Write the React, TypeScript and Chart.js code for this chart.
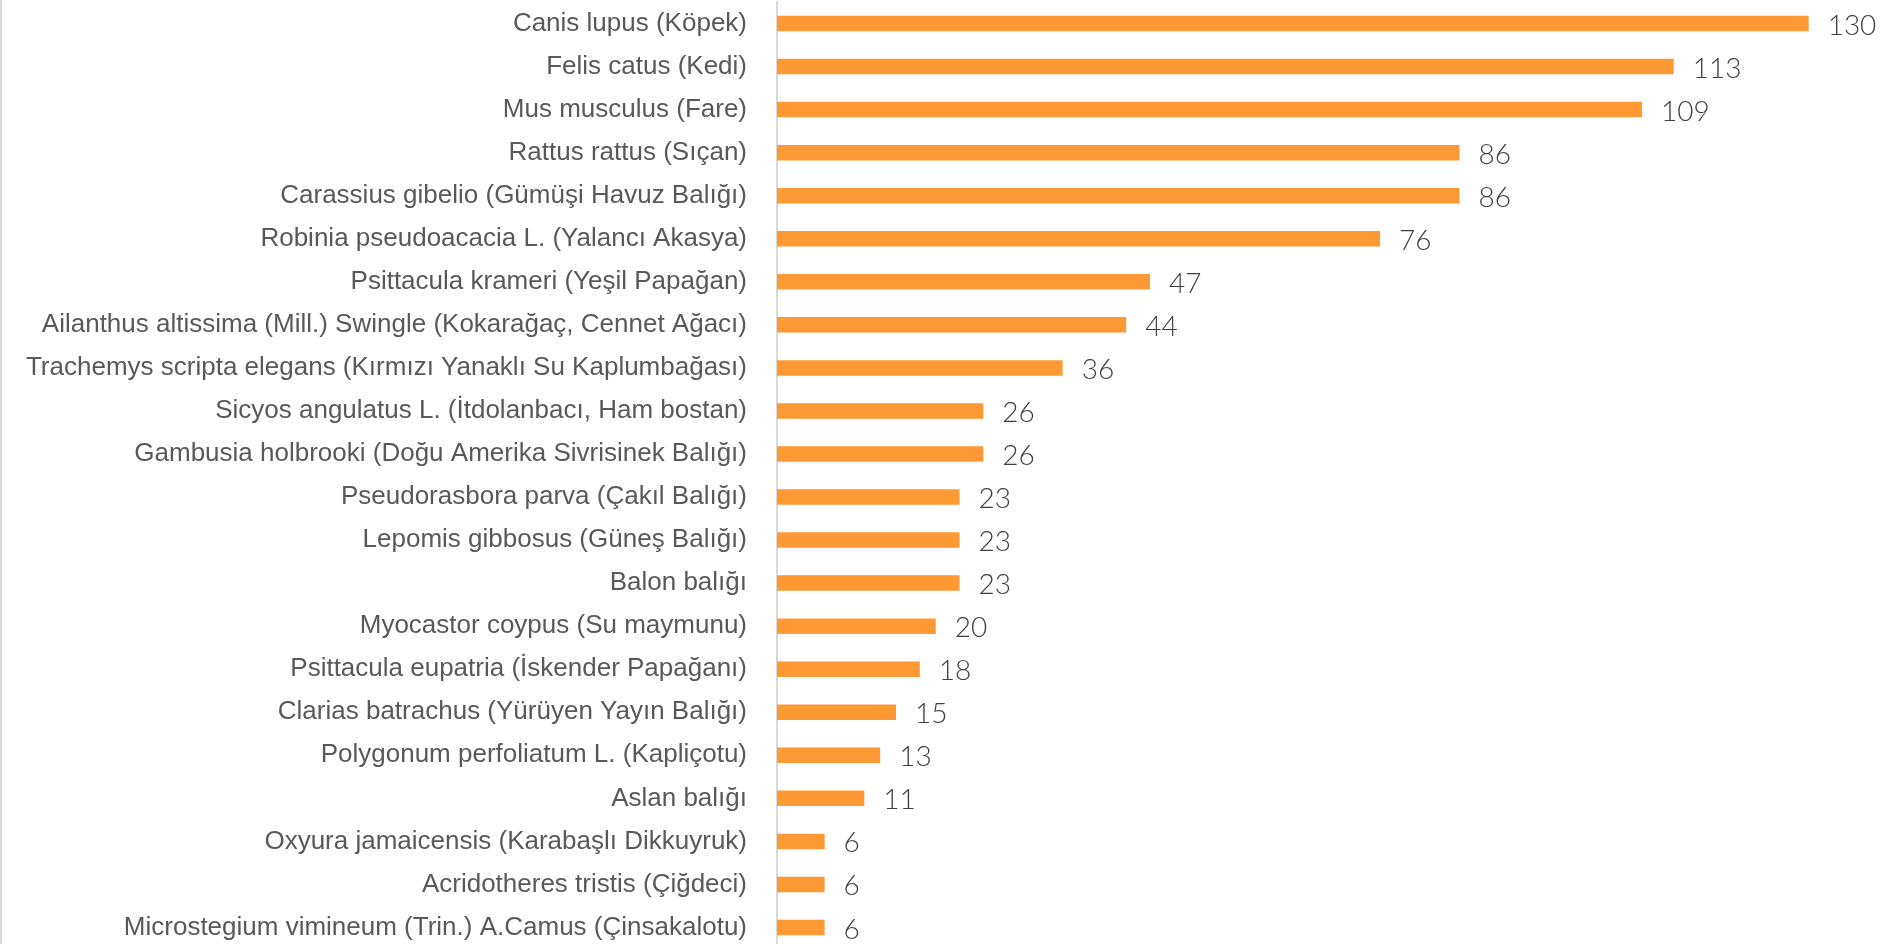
import React, { useEffect, useRef } from "react";
import { Chart, registerables } from "chart.js";

Chart.register(...registerables);

const categories: string[] = [
  "Canis lupus (Köpek)",
  "Felis catus (Kedi)",
  "Mus musculus (Fare)",
  "Rattus rattus (Sıçan)",
  "Carassius gibelio (Gümüşi Havuz Balığı)",
  "Robinia pseudoacacia L. (Yalancı Akasya)",
  "Psittacula krameri (Yeşil Papağan)",
  "Ailanthus altissima (Mill.) Swingle (Kokarağaç, Cennet Ağacı)",
  "Trachemys scripta elegans (Kırmızı Yanaklı Su Kaplumbağası)",
  "Sicyos angulatus L. (İtdolanbacı, Ham bostan)",
  "Gambusia holbrooki (Doğu Amerika Sivrisinek Balığı)",
  "Pseudorasbora parva (Çakıl Balığı)",
  "Lepomis gibbosus (Güneş Balığı)",
  "Balon balığı",
  "Myocastor coypus (Su maymunu)",
  "Psittacula eupatria (İskender Papağanı)",
  "Clarias batrachus (Yürüyen Yayın Balığı)",
  "Polygonum perfoliatum L. (Kapliçotu)",
  "Aslan balığı",
  "Oxyura jamaicensis (Karabaşlı Dikkuyruk)",
  "Acridotheres tristis (Çiğdeci)",
  "Microstegium vimineum (Trin.) A.Camus (Çinsakalotu)",
];

const counts: number[] = [130, 113, 109, 86, 86, 76, 47, 44, 36, 26, 26, 23, 23, 23, 20, 18, 15, 13, 11, 6, 6, 6];

const valueLabelPlugin = {
  id: "valueLabels",
  afterDatasetsDraw(chart: any) {
    const { ctx } = chart;
    const meta = chart.getDatasetMeta(0);
    ctx.save();
    ctx.font = "300 28px Lato";
    ctx.fillStyle = "#404040";
    ctx.textAlign = "left";
    ctx.textBaseline = "middle";
    meta.data.forEach((bar: any, i: number) => {
      ctx.fillText(String(counts[i]), bar.x + 19, bar.y + 2);
    });
    ctx.restore();
  },
};

const borderPlugin = {
  id: "leftBorder",
  afterDraw(chart: any) {
    const { ctx } = chart;
    ctx.save();
    ctx.strokeStyle = "#d9d9d9";
    ctx.lineWidth = 2;
    ctx.beginPath();
    ctx.moveTo(1, 0);
    ctx.lineTo(1, chart.height);
    ctx.stroke();
    ctx.restore();
  },
};

export default function App() {
  const ref = useRef<HTMLCanvasElement | null>(null);
  useEffect(() => {
    document.body.style.margin = "0";
    if (!ref.current) return;
    const chart = new Chart(ref.current, {
      type: "bar",
      data: {
        labels: categories,
        datasets: [
          {
            data: counts,
            backgroundColor: "#FF9933",
            borderWidth: 0,
            categoryPercentage: 1,
            barPercentage: 0.36,
          },
        ],
      },
      options: {
        indexAxis: "y",
        animation: false,
        responsive: false,
        maintainAspectRatio: false,
        layout: { padding: { top: 2, bottom: 1, left: 0, right: 0 } },
        plugins: { legend: { display: false }, tooltip: { enabled: false } },
        scales: {
          x: {
            min: 0,
            max: 140,
            display: false,
          },
          y: {
            grid: { display: false, drawTicks: false },
            border: { display: true, color: "#d9d9d9", width: 2 },
            ticks: {
              padding: 30,
              color: "#595959",
              font: { family: "'Liberation Sans', Arial", size: 26 },
              autoSkip: false,
            },
            afterFit(scale: any) {
              scale.width = 777;
              scale.paddingTop = 0;
              scale.paddingBottom = 0;
            },
          },
        },
      },
      plugins: [valueLabelPlugin, borderPlugin],
    });
    return () => chart.destroy();
  }, []);
  return (
    <div style={{ position: "fixed", left: 0, top: 0, width: 1888, height: 944, overflow: "hidden", background: "#fff" }}>
      <canvas ref={ref} width={1888} height={950} style={{ display: "block", width: 1888, height: 950 }} />
    </div>
  );
}
